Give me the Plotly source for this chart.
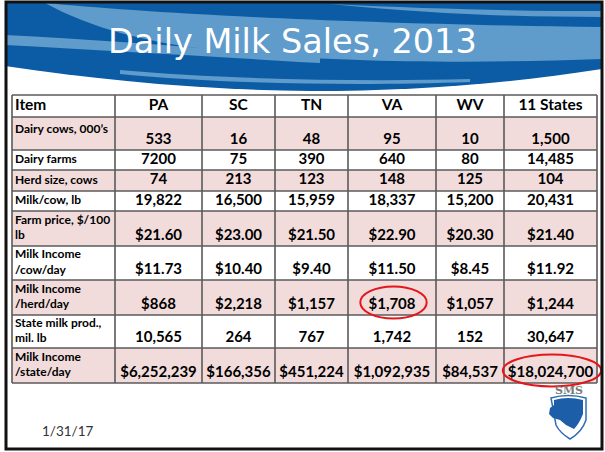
import plotly.graph_objects as go

# ---------------- data ----------------
title_text = "Daily Milk Sales, 2013"
date_text = "1/31/17"
item_header = "Item"
states = ["PA", "SC", "TN", "VA", "WV", "11 States"]
row_labels = [
    "Dairy cows, 000\u2019s",
    "Dairy farms",
    "Herd size, cows",
    "Milk/cow, lb",
    "Farm price, $/100<br>lb",
    "Milk Income<br>/cow/day",
    "Milk Income<br>/herd/day",
    "State milk prod.,<br>mil. lb",
    "Milk Income<br>/state/day",
]
dairy_cows = ["533", "16", "48", "95", "10", "1,500"]
dairy_farms = ["7200", "75", "390", "640", "80", "14,485"]
herd_size = ["74", "213", "123", "148", "125", "104"]
milk_per_cow = ["19,822", "16,500", "15,959", "18,337", "15,200", "20,431"]
farm_price = ["$21.60", "$23.00", "$21.50", "$22.90", "$20.30", "$21.40"]
income_cow_day = ["$11.73", "$10.40", "$9.40", "$11.50", "$8.45", "$11.92"]
income_herd_day = ["$868", "$2,218", "$1,157", "$1,708", "$1,057", "$1,244"]
state_milk_prod = ["10,565", "264", "767", "1,742", "152", "30,647"]
income_state_day = ["$6,252,239", "$166,356", "$451,224", "$1,092,935", "$84,537", "$18,024,700"]
# cells circled in red: (row index, state)
highlighted = [(6, "VA"), (8, "11 States")]

rows = [dairy_cows, dairy_farms, herd_size, milk_per_cow, farm_price,
        income_cow_day, income_herd_day, state_milk_prod, income_state_day]

# ---------------- layout / style ----------------
W, H = 605, 452
col_edges = [12, 115, 202, 275, 348, 436, 504, 597]
row_edges = [95, 117, 150, 170, 191, 211, 246, 280, 315, 348, 383]
PINK = "#F2DCDB"
GRID = "#5a5a5a"
DARK_BLUE = "#0B5CA4"
LIGHT_BLUE = "#5F9BCB"
FONT = "Lato"

shapes = []

# header waves
shapes.append(dict(type="path", layer="below", line=dict(width=0), fillcolor=DARK_BLUE,
                   path="M5,3 L602,3 L602,69 C520,82 420,91 310,91 C200,90 100,80 5,66 Z"))
shapes.append(dict(type="path", layer="below", line=dict(width=0), fillcolor=LIGHT_BLUE,
                   path="M45,3 C140,12 330,24 602,27 L602,59 C470,64 330,62 230,52 C150,44 90,28 45,3 Z"))
shapes.append(dict(type="path", layer="below", line=dict(width=0), fillcolor=LIGHT_BLUE,
                   path="M5,35 C100,40 200,47 320,58 L320,63 C200,56 100,50 5,45 Z"))
shapes.append(dict(type="path", layer="below", line=dict(width=0), fillcolor=LIGHT_BLUE,
                   path="M120,70 C220,79 360,82 470,79 L470,82 C360,86 220,84 120,74 Z"))
shapes.append(dict(type="path", layer="below", line=dict(width=0), fillcolor=LIGHT_BLUE,
                   path="M330,4 C430,9 520,11 602,11 L602,17 C520,17 430,14 330,4 Z"))

# row fills
n_rows = len(rows)
for i in range(n_rows):
    if i % 2 == 0:
        shapes.append(dict(type="rect", layer="below", x0=col_edges[0], x1=col_edges[-1],
                           y0=row_edges[i + 1], y1=row_edges[i + 2],
                           fillcolor=PINK, line=dict(width=0)))
# grid lines
for y in row_edges:
    shapes.append(dict(type="line", layer="below", x0=col_edges[0], x1=col_edges[-1], y0=y, y1=y,
                       line=dict(color=GRID, width=1.6)))
for x in col_edges:
    shapes.append(dict(type="line", layer="below", x0=x, x1=x, y0=row_edges[0], y1=row_edges[-1],
                       line=dict(color=GRID, width=1.6)))

# text positions
def value_y(i):
    top, bot = row_edges[i + 1], row_edges[i + 2]
    if bot - top > 25:
        return bot - 9.5
    return (top + bot) / 2

def label_y(i):
    top, bot = row_edges[i + 1], row_edges[i + 2]
    if "<br>" not in row_labels[i] and bot - top > 25:
        return top + 13
    return (top + bot) / 2

fig = go.Figure()

header_y = (row_edges[0] + row_edges[1]) / 2
# header
fig.add_trace(go.Scatter(
    x=[col_edges[0] + 3] , y=[header_y], mode="text", text=[item_header],
    textposition="middle right", textfont=dict(family=FONT, size=15.5, color="black", weight="bold"),
    hoverinfo="skip", showlegend=False, cliponaxis=False))
fig.add_trace(go.Scatter(
    x=[(col_edges[j + 1] + col_edges[j + 2]) / 2 for j in range(len(states))],
    y=[header_y] * len(states), mode="text", text=states,
    textposition="middle center", textfont=dict(family=FONT, size=15.5, color="black", weight="bold"),
    hoverinfo="skip", showlegend=False, cliponaxis=False))
# labels
fig.add_trace(go.Scatter(
    x=[col_edges[0] + 3] * n_rows, y=[label_y(i) for i in range(n_rows)], mode="text", text=row_labels,
    textposition="middle right", textfont=dict(family=FONT, size=12, color="black", weight="bold"),
    hoverinfo="skip", showlegend=False, cliponaxis=False))
# values per state column
for j, st in enumerate(states):
    cx = (col_edges[j + 1] + col_edges[j + 2]) / 2
    fig.add_trace(go.Scatter(
        x=[cx] * n_rows, y=[value_y(i) for i in range(n_rows)], mode="text",
        text=[rows[i][j] for i in range(n_rows)],
        textposition="middle center", textfont=dict(family=FONT, size=15, color="black", weight="bold"),
        hoverinfo="skip", showlegend=False, cliponaxis=False, name=st))

# red ellipses
for (ri, st) in highlighted:
    j = states.index(st)
    cx = (col_edges[j + 1] + col_edges[j + 2]) / 2 + 1.5
    cy = value_y(ri) - 3
    hw = 3.2 * len(rows[ri][j]) + 14
    hh = 16
    shapes.append(dict(type="circle", x0=cx - hw, x1=cx + hw, y0=cy - hh, y1=cy + hh,
                       line=dict(color="#E3161B", width=2), fillcolor="rgba(0,0,0,0)"))

# logo
shapes.append(dict(type="path", line=dict(color="#2F6DB5", width=1.5), fillcolor="white",
                   path="M551,398 Q568,393 586,398 L586,420 Q582,432 570,439 Q560,433 556,425 Z"))
shapes.append(dict(type="path", line=dict(width=0), fillcolor="#1C5EA8",
                   path="M554,400 Q568,396 583,400 L583,414 Q579,424 574,429 L566,425 L560,420 L553,418 L549,414 L550,408 L554,405 Z"))

# slide border
shapes.append(dict(type="rect", x0=6, x1=602, y0=2, y1=449, line=dict(color="#111111", width=3),
                   fillcolor="rgba(0,0,0,0)"))

annotations = [
    dict(x=292, y=41, text=title_text, showarrow=False, xanchor="center", yanchor="middle",
         font=dict(family="DejaVu Sans", size=33.5, color="white")),
    dict(x=40, y=431, text=date_text, showarrow=False, xanchor="left", yanchor="middle",
         font=dict(family=FONT, size=13.5, color="#333333")),
    dict(x=568.5, y=390, text="<b>SMS</b>", showarrow=False, xanchor="center", yanchor="middle",
         font=dict(family="DejaVu Serif", size=11, color="#7a7a7a")),
]

fig.update_layout(
    width=W, height=H, margin=dict(l=0, r=0, t=0, b=0),
    paper_bgcolor="white", plot_bgcolor="white",
    xaxis=dict(range=[0, W], visible=False, fixedrange=True),
    yaxis=dict(range=[H, 0], visible=False, fixedrange=True),
    shapes=shapes, annotations=annotations, showlegend=False,
)

fig.write_html("out.html", config={"displayModeBar": False},
               post_script="document.body.style.margin='0';document.body.style.overflow='hidden';")
